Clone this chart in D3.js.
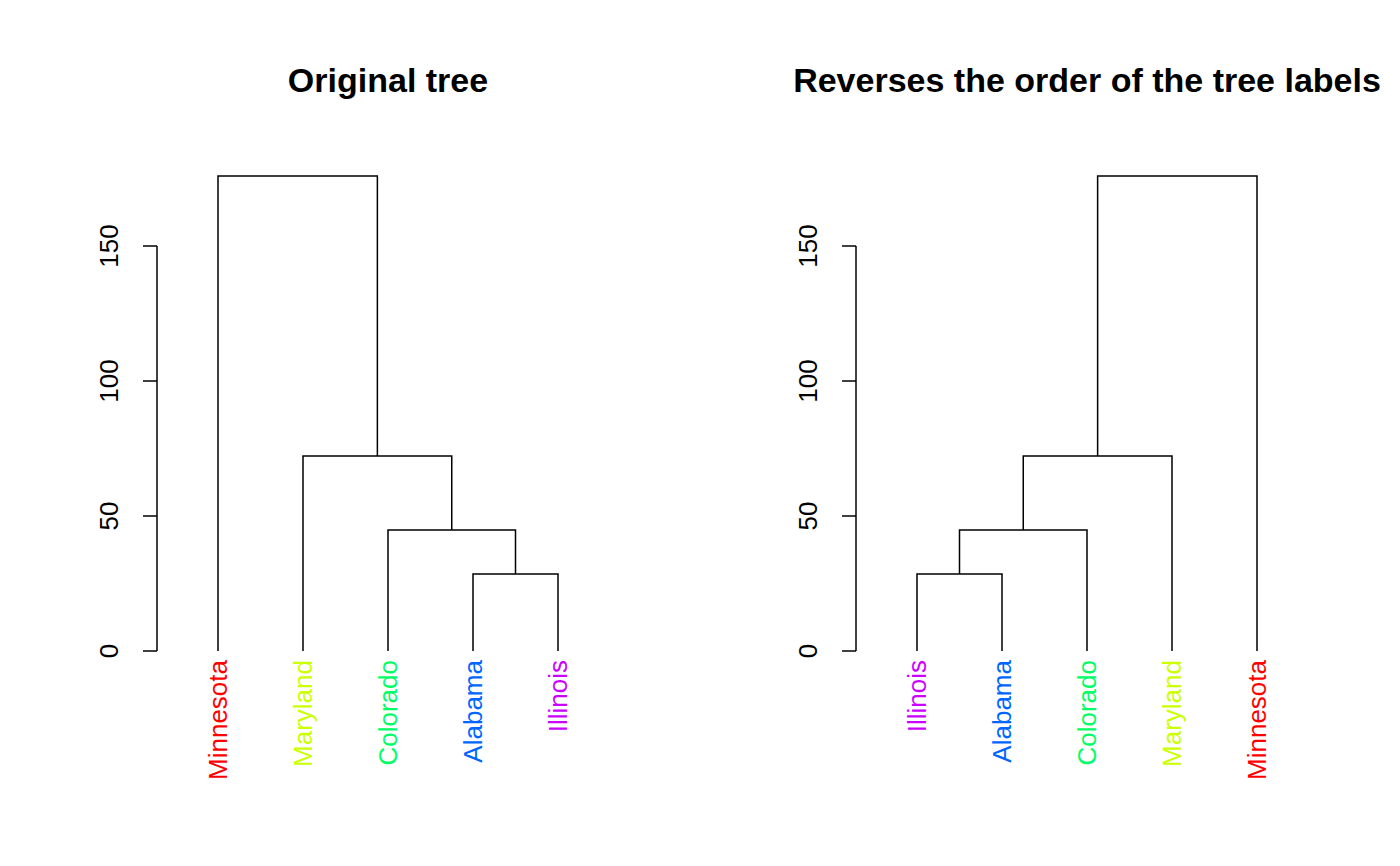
<!DOCTYPE html>
<html><head><meta charset="utf-8">
<script src="https://cdn.jsdelivr.net/npm/d3@7"></script>
<style>body{margin:0;background:#fff}text{font-family:"Liberation Sans",Arial,sans-serif}</style>
</head><body><div id="chart"></div>
<script>
// leaves in original order, and colours
const labels = ["Minnesota", "Maryland", "Colorado", "Alabama", "Illinois"];
const labelColors = ["#FF0000", "#CCFF00", "#00FF66", "#0066FF", "#CC00FF"];
// merges: [left, right, height]; negative = leaf index, positive = earlier merge (1-based)
const merges = [[-4, -5, 28.5], [-3, 1, 44.8], [-2, 2, 72.2], [-1, 3, 175.9]];
const yTicks = [0, 50, 100, 150];
const titles = ["Original tree", "Reverses the order of the tree labels"];

const W = 1400, H = 866;
const svg = d3.select("#chart").append("svg").attr("width", W).attr("height", H);

function buildTree(reverse) {
  function node(ref) {
    if (ref < 0) return { leaf: -ref - 1, h: 0 };
    const m = merges[ref - 1];
    const kids = [node(m[0]), node(m[1])];
    if (reverse) kids.reverse();
    return { kids: kids, h: m[2] };
  }
  return node(merges.length);
}

function drawPanel(x0, reverse, title) {
  const g = svg.append("g");
  const y = d3.scaleLinear().domain([0, 150]).range([651, 246]);
  const x = d3.scaleLinear().domain([0, 4]).range([x0 + 61, x0 + 401]);
  let pos = 0;
  function layout(n) {
    if (n.kids === undefined) { n.x = x(pos++); return; }
    n.kids.forEach(layout);
    n.x = (n.kids[0].x + n.kids[1].x) / 2;
  }
  const root = buildTree(reverse);
  layout(root);
  function draw(n) {
    if (n.kids === undefined) {
      g.append("text").attr("transform", `translate(${n.x + 9},${660}) rotate(-90)`)
        .attr("text-anchor", "end").attr("font-size", 26)
        .attr("fill", labelColors[n.leaf]).text(labels[n.leaf]);
      return;
    }
    const [a, b] = n.kids;
    g.append("path")
      .attr("d", `M${a.x},${y(a.h)}V${y(n.h)}H${b.x}V${y(b.h)}`)
      .attr("fill", "none").attr("stroke", "#000").attr("stroke-width", 1.5);
    n.kids.forEach(draw);
  }
  draw(root);

  // y axis
  const ax = x0;
  g.append("line").attr("x1", ax).attr("x2", ax).attr("y1", y(0)).attr("y2", y(150))
    .attr("stroke", "#000").attr("stroke-width", 1.5);
  yTicks.forEach(t => {
    g.append("line").attr("x1", ax - 14).attr("x2", ax).attr("y1", y(t)).attr("y2", y(t))
      .attr("stroke", "#000").attr("stroke-width", 1.5);
    g.append("text").attr("transform", `translate(${ax - 48},${y(t)}) rotate(-90)`)
      .attr("text-anchor", "middle").attr("dy", "0.35em").attr("font-size", 26).text(t);
  });

  g.append("text").attr("x", x(2)).attr("y", 92).attr("text-anchor", "middle")
    .attr("font-size", 34).attr("font-weight", "bold").text(title);
}

drawPanel(157, false, titles[0]);
drawPanel(856, true, titles[1]);
</script></body></html>
